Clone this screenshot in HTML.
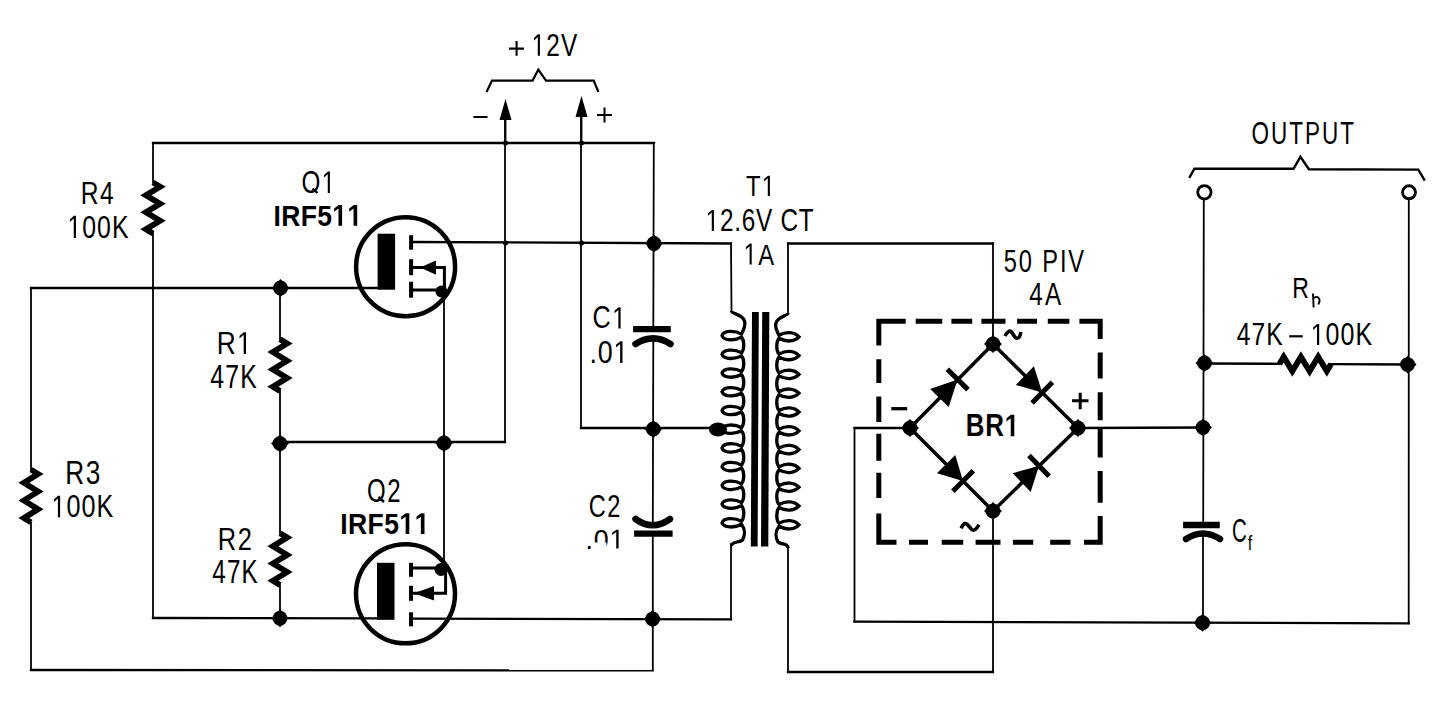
<!DOCTYPE html>
<html><head><meta charset="utf-8"><title>Circuit</title>
<style>
html,body{margin:0;padding:0;background:#fff;width:1444px;height:708px;overflow:hidden}
svg{display:block}
.f{fill:#000;stroke:none}
text{font-family:"Liberation Sans",sans-serif;font-kerning:none}
</style></head><body>
<svg width="1444" height="708" viewBox="0 0 1444 708">
<rect width="1444" height="708" fill="#fff"/>
<g fill="none" stroke="#000" stroke-linecap="butt" stroke-linejoin="miter">
<path d="M153,143 L654,143" stroke-width="2.3" stroke-linecap="square"/>
<path d="M153,143 L153,182.5" stroke-width="1.8" stroke-linecap="square"/>
<path d="M153,182.5 L160.1,186.8 L145.9,195.2 L160.1,203.8 L145.9,212.2 L160.1,220.8 L145.9,229.2 L153,233.5" stroke-width="5.8" stroke-linejoin="miter" stroke-miterlimit="10"/>
<path d="M153,233.5 L153,618" stroke-width="1.8" stroke-linecap="square"/>
<path d="M153,618 L378,618.3" stroke-width="2.3" stroke-linecap="square"/>
<path d="M411,618.6 L731,619.4" stroke-width="2.3" stroke-linecap="square"/>
<path d="M731,619.4 L731,544" stroke-width="1.8" stroke-linecap="square"/>
<path d="M31,670 L652.8,670.4" stroke-width="2.3" stroke-linecap="square"/>
<path d="M31,288 L31,469.6" stroke-width="1.8" stroke-linecap="square"/>
<path d="M31,469.6 L38.1,474.0 L23.9,482.8 L38.1,491.6 L23.9,500.4 L38.1,509.2 L23.9,518.0 L31,522.4" stroke-width="5.8" stroke-linejoin="miter" stroke-miterlimit="10"/>
<path d="M31,522.4 L31,670" stroke-width="1.8" stroke-linecap="square"/>
<path d="M31,288 L378,288" stroke-width="2.3" stroke-linecap="square"/>
<path d="M280,288 L280,339.2" stroke-width="1.8" stroke-linecap="square"/>
<path d="M280,339.2 L287.1,343.5 L272.9,352.1 L287.1,360.8 L272.9,369.4 L287.1,378.1 L272.9,386.7 L280,391" stroke-width="5.8" stroke-linejoin="miter" stroke-miterlimit="10"/>
<path d="M280,391 L280,533.3" stroke-width="1.8" stroke-linecap="square"/>
<path d="M280,533.3 L287.1,537.6 L272.9,546.2 L287.1,554.9 L272.9,563.5 L287.1,572.1 L272.9,580.8 L280,585.1" stroke-width="5.8" stroke-linejoin="miter" stroke-miterlimit="10"/>
<path d="M280,585.1 L280,618" stroke-width="1.8" stroke-linecap="square"/>
<path d="M280,442 L505,442" stroke-width="2.3" stroke-linecap="square"/>
<path d="M505,442 L505,110" stroke-width="1.8" stroke-linecap="square"/>
<path d="M444,268 L444,570" stroke-width="1.8" stroke-linecap="square"/>
<path d="M411,242 L731,243.5" stroke-width="2.3" stroke-linecap="square"/>
<path d="M731,243.5 L731.5,311" stroke-width="1.8" stroke-linecap="square"/>
<path d="M581,428 L718,428" stroke-width="2.3" stroke-linecap="square"/>
<path d="M581,108 L581,428" stroke-width="1.8" stroke-linecap="square"/>
<path d="M653.8,143 L653.3,329" stroke-width="1.8" stroke-linecap="square"/>
<path d="M653.3,338 L652.8,525" stroke-width="1.8" stroke-linecap="square"/>
<path d="M652.8,533 L652.8,670" stroke-width="1.8" stroke-linecap="square"/>
<path d="M788,243.5 L993,243.5" stroke-width="2.3" stroke-linecap="square"/>
<path d="M788,313 L788,243.5 M993,243.5 L993,344" stroke-width="1.8" stroke-linecap="square"/>
<path d="M910,428 L854.5,428 M854.5,621.6 L1408.7,623.3" stroke-width="2.3" stroke-linecap="square"/>
<path d="M854.5,428 L854.5,621.6" stroke-width="1.8" stroke-linecap="square"/>
<path d="M993,672 L788,672" stroke-width="2.3" stroke-linecap="square"/>
<path d="M993,511 L993,672 M788,672 L788,547" stroke-width="1.8" stroke-linecap="square"/>
<path d="M1078,428 L1203.3,427.5" stroke-width="2.3" stroke-linecap="square"/>
<path d="M1203.8,199 L1203.2,525" stroke-width="1.8" stroke-linecap="square"/>
<path d="M1203,533 L1203,623" stroke-width="1.8" stroke-linecap="square"/>
<path d="M1408.8,199 L1408.7,623.3" stroke-width="1.8" stroke-linecap="square"/>
<path d="M1204,363.5 L1279.4,363.8" stroke-width="2.3" stroke-linecap="square"/>
<path d="M1279.4,364 L1283.7,356.9 L1292.3,371.1 L1300.9,356.9 L1309.6,371.1 L1318.2,356.9 L1326.8,371.1 L1331.1,364" stroke-width="5.8" stroke-linejoin="miter" stroke-miterlimit="10"/>
<path d="M1331.1,364.2 L1408.5,364.5" stroke-width="2.3" stroke-linecap="square"/>
<path class="f" d="M273.06,288 A7.44,7.44 0 1,1 287.94,288 A7.44,7.44 0 1,1 273.06,288 Z M280.5,279.04 L289.46,288 L280.5,296.96 L271.54,288 Z" fill-rule="nonzero"/>
<path class="f" d="M272.56,443.5 A7.44,7.44 0 1,1 287.44,443.5 A7.44,7.44 0 1,1 272.56,443.5 Z M280,434.54 L288.96,443.5 L280,452.46 L271.04,443.5 Z" fill-rule="nonzero"/>
<path class="f" d="M436.56,443 A7.44,7.44 0 1,1 451.44,443 A7.44,7.44 0 1,1 436.56,443 Z M444,434.04 L452.96,443 L444,451.96 L435.04,443 Z" fill-rule="nonzero"/>
<path class="f" d="M272.56,618.2 A7.44,7.44 0 1,1 287.44,618.2 A7.44,7.44 0 1,1 272.56,618.2 Z M280,609.24 L288.96,618.2 L280,627.1600000000001 L271.04,618.2 Z" fill-rule="nonzero"/>
<path class="f" d="M646.56,243.5 A7.44,7.44 0 1,1 661.44,243.5 A7.44,7.44 0 1,1 646.56,243.5 Z M654,234.54 L662.96,243.5 L654,252.46 L645.04,243.5 Z" fill-rule="nonzero"/>
<path class="f" d="M645.8599999999999,429 A7.44,7.44 0 1,1 660.74,429 A7.44,7.44 0 1,1 645.8599999999999,429 Z M653.3,420.04 L662.26,429 L653.3,437.96 L644.3399999999999,429 Z" fill-rule="nonzero"/>
<path class="f" d="M645.16,619 A7.44,7.44 0 1,1 660.0400000000001,619 A7.44,7.44 0 1,1 645.16,619 Z M652.6,610.04 L661.5600000000001,619 L652.6,627.96 L643.64,619 Z" fill-rule="nonzero"/>
<path class="f" d="M985.56,344 A7.44,7.44 0 1,1 1000.44,344 A7.44,7.44 0 1,1 985.56,344 Z M993,335.04 L1001.96,344 L993,352.96 L984.04,344 Z" fill-rule="nonzero"/>
<path class="f" d="M902.56,428 A7.44,7.44 0 1,1 917.44,428 A7.44,7.44 0 1,1 902.56,428 Z M910,419.04 L918.96,428 L910,436.96 L901.04,428 Z" fill-rule="nonzero"/>
<path class="f" d="M1070.56,428 A7.44,7.44 0 1,1 1085.44,428 A7.44,7.44 0 1,1 1070.56,428 Z M1078,419.04 L1086.96,428 L1078,436.96 L1069.04,428 Z" fill-rule="nonzero"/>
<path class="f" d="M985.56,511 A7.44,7.44 0 1,1 1000.44,511 A7.44,7.44 0 1,1 985.56,511 Z M993,502.04 L1001.96,511 L993,519.96 L984.04,511 Z" fill-rule="nonzero"/>
<path class="f" d="M1197.06,363 A7.44,7.44 0 1,1 1211.94,363 A7.44,7.44 0 1,1 1197.06,363 Z M1204.5,354.04 L1213.46,363 L1204.5,371.96 L1195.54,363 Z" fill-rule="nonzero"/>
<path class="f" d="M1400.1599999999999,364.6 A7.44,7.44 0 1,1 1415.04,364.6 A7.44,7.44 0 1,1 1400.1599999999999,364.6 Z M1407.6,355.64000000000004 L1416.56,364.6 L1407.6,373.56 L1398.6399999999999,364.6 Z" fill-rule="nonzero"/>
<path class="f" d="M1195.56,427.5 A7.44,7.44 0 1,1 1210.44,427.5 A7.44,7.44 0 1,1 1195.56,427.5 Z M1203,418.54 L1211.96,427.5 L1203,436.46 L1194.04,427.5 Z" fill-rule="nonzero"/>
<path class="f" d="M1195.1599999999999,622.8 A7.44,7.44 0 1,1 1210.04,622.8 A7.44,7.44 0 1,1 1195.1599999999999,622.8 Z M1202.6,613.8399999999999 L1211.56,622.8 L1202.6,631.76 L1193.6399999999999,622.8 Z" fill-rule="nonzero"/>
<circle cx="505.5" cy="143" r="2.5" class="f"/>
<circle cx="581.5" cy="143" r="2.5" class="f"/>
<circle cx="505.5" cy="243" r="2.5" class="f"/>
<circle cx="581.5" cy="243" r="2.5" class="f"/>
<path class="f" d="M505.5,99 L499.5,120 L511.5,120 Z"/>
<path class="f" d="M581.5,96 L575.5,117 L587.5,117 Z"/>
<path d="M505.5,118 L505.5,143" stroke-width="1.8" stroke-linecap="square"/>
<path d="M581.5,115 L581.5,143" stroke-width="1.8" stroke-linecap="square"/>
<path d="M487,91 L492,80.6 L532.6,80.6 L538.3,69.7 L546,80.6 L593.7,80.6 L598,91" stroke-width="2.2" stroke-linecap="square"/>
<path d="M1189.3,177.8 L1194.4,168.7 L1293.5,168.8 L1300.4,156.8 L1308.9,169.2 L1418.3,169.6 L1424.8,180.6" stroke-width="2.4" stroke-linecap="butt"/>
<circle cx="1204.4" cy="192.3" r="6.7" fill="none" stroke-width="2.9"/>
<circle cx="1409" cy="192.3" r="6.5" fill="none" stroke-width="2.9"/>
<circle cx="405.6" cy="266.7" r="49.5" fill="none" stroke-width="4.5"/>
<rect x="377.6" y="233.7" width="17.5" height="56" class="f"/>
<rect x="409.1" y="235.2" width="4" height="14.5" class="f"/>
<rect x="409.1" y="259.2" width="4" height="16.0" class="f"/>
<rect x="409.1" y="281.7" width="4" height="16" class="f"/>
<path d="M411,267.6 L444.4,267.6 L444.4,293" stroke-width="3" stroke-linecap="square"/>
<path class="f" d="M420,267.6 L436,260.5 L436,274.7 Z"/>
<path d="M411,290 L444,290" stroke-width="3" stroke-linecap="square"/>
<circle cx="441.5" cy="291.5" r="6" class="f"/>
<circle cx="405.5" cy="593.8" r="49.5" fill="none" stroke-width="4.5"/>
<rect x="377.0" y="562.8" width="17.5" height="57" class="f"/>
<rect x="409.0" y="562.8" width="4" height="14" class="f"/>
<rect x="409.0" y="585.8" width="4" height="15" class="f"/>
<rect x="409.0" y="612.3" width="4" height="14.0" class="f"/>
<path d="M411,568 L444,568" stroke-width="3" stroke-linecap="square"/>
<circle cx="441" cy="569.5" r="6.5" class="f"/>
<path d="M411,593.3 L445.6,593.3 L445.6,572" stroke-width="3" stroke-linecap="square"/>
<path class="f" d="M414,593.3 L434,586 L434,600.6 Z"/>
<path d="M633.1,329.2 L670.8,329.2" stroke-width="6.3"/>
<path d="M635.5,344 Q653.0,332.79999999999995 670.5,344" fill="none" stroke-width="6.5" stroke-linecap="round"/>
<path d="M634.1,533.7 L672.6,533.7" stroke-width="6.3"/>
<path d="M635.5,519 Q652.75,531.4000000000001 670,519" fill="none" stroke-width="6.5" stroke-linecap="round"/>
<path d="M1183.1,525 L1219.8,525" stroke-width="6.3"/>
<path d="M1186,539 Q1203.0,528.0 1220,539" fill="none" stroke-width="6.5" stroke-linecap="round"/>
<path class="f" d="M752,312 L758.8,312 L757.6,546.5 L750.8,546.5 Z"/>
<path class="f" d="M762.2,312 L769.3,312 L768.3,546.5 L761,546.5 Z"/>
<path d="M731.5,311 C731.5,314 742.5,314 744.5,321 C746.0,326 743.5,329.6 741.5,334.1 C734.675,330.20000000000005 723.5,330.40000000000003 722,335.6 C723.5,340.8 734.675,341.0 741.5,337.1 C744.5,340.6 744.5,349.32000000000005 741.5,352.82000000000005 C734.675,348.9200000000001 723.5,349.12000000000006 722,354.32000000000005 C723.5,359.52000000000004 734.675,359.72 741.5,355.82000000000005 C744.5,359.32000000000005 744.5,368.04 741.5,371.54 C734.675,367.64000000000004 723.5,367.84000000000003 722,373.04 C723.5,378.24 734.675,378.44 741.5,374.54 C744.5,378.04 744.5,386.76 741.5,390.26 C734.675,386.36 723.5,386.56 722,391.76 C723.5,396.96 734.675,397.15999999999997 741.5,393.26 C744.5,396.76 744.5,405.48 741.5,408.98 C734.675,405.08000000000004 723.5,405.28000000000003 722,410.48 C723.5,415.68 734.675,415.88 741.5,411.98 C744.5,415.48 744.5,424.20000000000005 741.5,427.70000000000005 C734.675,423.80000000000007 723.5,424.00000000000006 722,429.20000000000005 C723.5,434.40000000000003 734.675,434.6 741.5,430.70000000000005 C744.5,434.20000000000005 744.5,442.92 741.5,446.42 C734.675,442.52000000000004 723.5,442.72 722,447.92 C723.5,453.12 734.675,453.32 741.5,449.42 C744.5,452.92 744.5,461.64 741.5,465.14 C734.675,461.24 723.5,461.44 722,466.64 C723.5,471.84 734.675,472.03999999999996 741.5,468.14 C744.5,471.64 744.5,480.36 741.5,483.86 C734.675,479.96000000000004 723.5,480.16 722,485.36 C723.5,490.56 734.675,490.76 741.5,486.86 C744.5,490.36 744.5,499.08000000000004 741.5,502.58000000000004 C734.675,498.68000000000006 723.5,498.88000000000005 722,504.08000000000004 C723.5,509.28000000000003 734.675,509.48 741.5,505.58000000000004 C744.5,509.08000000000004 744.5,517.8 741.5,521.3 C734.675,517.4 723.5,517.5999999999999 722,522.8 C723.5,528.0 734.675,528.1999999999999 741.5,524.3 C745.5,529.8 745.5,534 742.5,540 C739.5,543 731.5,541 731.5,546" fill="none" stroke-width="3.3"/>
<path d="M788,313 C788,316 778,316 776,323 C774.5,328 777,330.8 779,335.3 C786.0,331.40000000000003 794,331.6 799,336.8 C794,342.0 786.0,342.2 779,338.3 C776,341.8 776,350.6 779,354.1 C786.0,350.20000000000005 794,350.40000000000003 799,355.6 C794,360.8 786.0,361.0 779,357.1 C776,360.6 776,369.40000000000003 779,372.90000000000003 C786.0,369.00000000000006 794,369.20000000000005 799,374.40000000000003 C794,379.6 786.0,379.8 779,375.90000000000003 C776,379.40000000000003 776,388.20000000000005 779,391.70000000000005 C786.0,387.80000000000007 794,388.00000000000006 799,393.20000000000005 C794,398.40000000000003 786.0,398.6 779,394.70000000000005 C776,398.20000000000005 776,407.0 779,410.5 C786.0,406.6 794,406.8 799,412.0 C794,417.2 786.0,417.4 779,413.5 C776,417.0 776,425.8 779,429.3 C786.0,425.40000000000003 794,425.6 799,430.8 C794,436.0 786.0,436.2 779,432.3 C776,435.8 776,444.6 779,448.1 C786.0,444.20000000000005 794,444.40000000000003 799,449.6 C794,454.8 786.0,455.0 779,451.1 C776,454.6 776,463.4 779,466.9 C786.0,463.0 794,463.2 799,468.4 C794,473.59999999999997 786.0,473.79999999999995 779,469.9 C776,473.4 776,482.20000000000005 779,485.70000000000005 C786.0,481.80000000000007 794,482.00000000000006 799,487.20000000000005 C794,492.40000000000003 786.0,492.6 779,488.70000000000005 C776,492.20000000000005 776,501.0 779,504.5 C786.0,500.6 794,500.8 799,506.0 C794,511.2 786.0,511.4 779,507.5 C776,511.0 776,519.8 779,523.3 C786.0,519.4 794,519.5999999999999 799,524.8 C794,530.0 786.0,530.1999999999999 779,526.3 C775,531.8 775,536 778,542 C781,545 788,543 788,548" fill="none" stroke-width="3.3"/>
<ellipse cx="718" cy="429.5" rx="9" ry="7" class="f"/>
<path d="M993,344 L910,428 L993,511 L1078,428 L993,344" stroke-width="3.5" stroke-linecap="square"/>
<path class="f" d="M957.6,379.5 L948.7,407.1 L930.2,388.9 Z"/>
<path d="M968.0,389.6 L947.3,369.3" stroke-width="5"/>
<path class="f" d="M1042.2,392.6 L1015.8,384.9 L1033.9,366.3 Z"/>
<path d="M1032.1,402.9 L1052.4,382.2" stroke-width="5"/>
<path class="f" d="M963.0,481.0 L936.9,473.3 L955.3,454.9 Z"/>
<path d="M952.8,491.3 L973.3,470.8" stroke-width="5"/>
<path class="f" d="M1039.0,465.8 L1030.7,491.9 L1012.7,473.2 Z"/>
<path d="M1049.1,476.3 L1029.0,455.4" stroke-width="5"/>
<path d="M905.7,321.3 L878.8,321.3 L878.8,345.6 M915.7,321.3 L942.3,321.3 M951.4,321.3 L972.2,321.3 M981.4,321.3 L1005.5,321.3 M1017.1,321.3 L1037,321.3 M1047.8,321.3 L1069.4,321.3 M1079.4,321.3 L1100.2,321.3 L1100.2,339 M878.8,359.2 L878.8,382.9 M878.8,396.4 L878.8,421.9 M878.8,433.7 L878.8,460.8 M878.8,472.7 L878.8,498.1 M878.8,513.4 L878.8,542.2 L896.5,542.2 M1100.2,352.4 L1100.2,378.6 M1100.2,392.2 L1100.2,420.2 M1100.2,428 L1100.2,457.6 M1100.2,471 L1100.2,502.8 M1100.2,516 L1100.2,542.2 L1084,542.2 M909,542.2 L928,542.2 M941.7,542.2 L963.2,542.2 M975.6,542.2 L1000.5,542.2 M1012.9,542.2 L1033.2,542.2 M1050.2,542.2 L1070.5,542.2" stroke-width="5"/>
<path d="M509,48.6 L524,48.6 M516.6,41.1 L516.6,55.7" stroke-width="2.1"/>
<path d="M312.5,188.5 L317.5,193" stroke-width="2.3"/>
<path d="M378.5,497 L384,502" stroke-width="2.5"/>
<path d="M1313,293.5 L1313.6,307.5 M1313.4,298.5 C1315.5,296 1319.5,296.5 1319.6,301 L1318.5,304.5" fill="none" stroke-width="1.9"/>
<path d="M473.4,117 L487.5,117" stroke-width="2"/>
<path d="M597,115 L612,115 M604.5,107.5 L604.5,122.5" stroke-width="2"/>
<path d="M1289.2,336.3 L1302.7,336.3" stroke-width="2.2"/>
<path d="M891.3,408.7 L907.2,408.7" stroke-width="3.3"/>
<path d="M1072,400.8 L1088.5,400.8 M1080.2,392.7 L1080.2,409.2" stroke-width="3"/>
<path d="M1005,336 C1007,332 1009.5,330.5 1011,331.5 C1013,333 1014.5,338.5 1017,338.2 C1019.5,338 1020.5,335 1020.7,332" fill="none" stroke-width="3.6"/>
<path d="M961.2,528.3 C962.5,524.5 964.5,523 966.5,523.8 C968.5,524.6 971,530.5 973.5,530.2 C976,530 977.5,527 979,524.8" fill="none" stroke-width="3.6"/>
</g>
<g fill="#000" font-family="Liberation Sans, sans-serif" style="font-kerning:none">
<path transform="translate(531.66,55.70) scale(0.01188,-0.01517)" d="M515,0 L515,1237 L197,1010 L197,1180 L530,1409 L696,1409 L696,0 Z"/>
<text transform="translate(546.27,55.70) scale(0.783,1)" font-size="31.08" font-weight="normal">2</text>
<text transform="translate(560.88,55.70) scale(0.783,1)" font-size="31.08" font-weight="normal">V</text>
<text transform="translate(80.68,204.10) scale(0.802,1)" font-size="30.67" font-weight="normal">R</text>
<text transform="translate(99.95,204.10) scale(0.802,1)" font-size="30.67" font-weight="normal">4</text>
<path transform="translate(67.51,237.89) scale(0.01214,-0.01566)" d="M515,0 L515,1237 L197,1010 L197,1180 L530,1409 L696,1409 L696,0 Z"/>
<text transform="translate(82.31,237.89) scale(0.775,1)" font-size="32.06" font-weight="normal">0</text>
<text transform="translate(97.10,237.89) scale(0.775,1)" font-size="32.06" font-weight="normal">0</text>
<text transform="translate(111.90,237.89) scale(0.775,1)" font-size="32.06" font-weight="normal">K</text>
<text transform="translate(301.45,193.00) scale(0.776,1)" font-size="31.21" font-weight="normal">O</text>
<path transform="translate(321.67,193.00) scale(0.01183,-0.01524)" d="M515,0 L515,1237 L197,1010 L197,1180 L530,1409 L696,1409 L696,0 Z"/>
<text transform="translate(273.43,225.81) scale(0.880,1)" font-size="30.10" font-weight="bold">I</text>
<text transform="translate(281.15,225.81) scale(0.880,1)" font-size="30.10" font-weight="bold">R</text>
<text transform="translate(300.65,225.81) scale(0.880,1)" font-size="30.10" font-weight="bold">F</text>
<text transform="translate(317.19,225.81) scale(0.880,1)" font-size="30.10" font-weight="bold">5</text>
<path transform="translate(332.29,225.81) scale(0.01293,-0.01470)" d="M478,0 L478,1170 L140,959 L140,1180 L493,1409 L759,1409 L759,0 Z"/>
<path transform="translate(347.38,225.81) scale(0.01293,-0.01470)" d="M478,0 L478,1170 L140,959 L140,1180 L493,1409 L759,1409 L759,0 Z"/>
<text transform="translate(216.64,354.00) scale(0.832,1)" font-size="31.69" font-weight="normal">R</text>
<path transform="translate(237.04,354.00) scale(0.01287,-0.01547)" d="M515,0 L515,1237 L197,1010 L197,1180 L530,1409 L696,1409 L696,0 Z"/>
<text transform="translate(210.33,388.20) scale(0.768,1)" font-size="32.27" font-weight="normal">4</text>
<text transform="translate(225.24,388.20) scale(0.768,1)" font-size="32.27" font-weight="normal">7</text>
<text transform="translate(240.16,388.20) scale(0.768,1)" font-size="32.27" font-weight="normal">K</text>
<text transform="translate(65.15,484.08) scale(0.800,1)" font-size="32.77" font-weight="normal">R</text>
<text transform="translate(85.67,484.08) scale(0.800,1)" font-size="32.77" font-weight="normal">3</text>
<path transform="translate(51.58,517.20) scale(0.01228,-0.01517)" d="M515,0 L515,1237 L197,1010 L197,1180 L530,1409 L696,1409 L696,0 Z"/>
<text transform="translate(66.55,517.20) scale(0.810,1)" font-size="31.07" font-weight="normal">0</text>
<text transform="translate(81.53,517.20) scale(0.810,1)" font-size="31.07" font-weight="normal">0</text>
<text transform="translate(96.50,517.20) scale(0.810,1)" font-size="31.07" font-weight="normal">K</text>
<text transform="translate(217.71,549.70) scale(0.819,1)" font-size="31.08" font-weight="normal">R</text>
<text transform="translate(237.63,549.70) scale(0.819,1)" font-size="31.08" font-weight="normal">2</text>
<text transform="translate(212.34,583.30) scale(0.747,1)" font-size="32.41" font-weight="normal">4</text>
<text transform="translate(226.93,583.30) scale(0.747,1)" font-size="32.41" font-weight="normal">7</text>
<text transform="translate(241.51,583.30) scale(0.747,1)" font-size="32.41" font-weight="normal">K</text>
<text transform="translate(366.96,501.68) scale(0.738,1)" font-size="32.49" font-weight="normal">O</text>
<text transform="translate(387.17,501.68) scale(0.738,1)" font-size="32.49" font-weight="normal">2</text>
<text transform="translate(340.13,533.91) scale(0.880,1)" font-size="30.10" font-weight="bold">I</text>
<text transform="translate(347.97,533.91) scale(0.880,1)" font-size="30.10" font-weight="bold">R</text>
<text transform="translate(367.59,533.91) scale(0.880,1)" font-size="30.10" font-weight="bold">F</text>
<text transform="translate(384.25,533.91) scale(0.880,1)" font-size="30.10" font-weight="bold">5</text>
<path transform="translate(399.47,533.91) scale(0.01293,-0.01470)" d="M478,0 L478,1170 L140,959 L140,1180 L493,1409 L759,1409 L759,0 Z"/>
<path transform="translate(414.68,533.91) scale(0.01293,-0.01470)" d="M478,0 L478,1170 L140,959 L140,1180 L493,1409 L759,1409 L759,0 Z"/>
<text transform="translate(746.06,196.00) scale(0.812,1)" font-size="29.36" font-weight="normal">T</text>
<path transform="translate(761.80,196.00) scale(0.01164,-0.01434)" d="M515,0 L515,1237 L197,1010 L197,1180 L530,1409 L696,1409 L696,0 Z"/>
<path transform="translate(705.66,230.90) scale(0.01187,-0.01490)" d="M515,0 L515,1237 L197,1010 L197,1180 L530,1409 L696,1409 L696,0 Z"/>
<text transform="translate(719.93,230.90) scale(0.797,1)" font-size="30.51" font-weight="normal">2</text>
<text transform="translate(734.19,230.90) scale(0.797,1)" font-size="30.51" font-weight="normal">.</text>
<text transform="translate(741.69,230.90) scale(0.797,1)" font-size="30.51" font-weight="normal">6</text>
<text transform="translate(755.96,230.90) scale(0.797,1)" font-size="30.51" font-weight="normal">V</text>
<text transform="translate(780.42,230.90) scale(0.797,1)" font-size="30.51" font-weight="normal">C</text>
<text transform="translate(798.71,230.90) scale(0.797,1)" font-size="30.51" font-weight="normal">T</text>
<path transform="translate(743.61,264.50) scale(0.01163,-0.01483)" d="M515,0 L515,1237 L197,1010 L197,1180 L530,1409 L696,1409 L696,0 Z"/>
<text transform="translate(758.26,264.50) scale(0.784,1)" font-size="30.38" font-weight="normal">A</text>
<text transform="translate(592.52,328.40) scale(0.821,1)" font-size="30.65" font-weight="normal">C</text>
<path transform="translate(612.04,328.40) scale(0.01229,-0.01497)" d="M515,0 L515,1237 L197,1010 L197,1180 L530,1409 L696,1409 L696,0 Z"/>
<text transform="translate(589.45,362.99) scale(0.853,1)" font-size="31.50" font-weight="normal">.</text>
<text transform="translate(597.67,362.99) scale(0.853,1)" font-size="31.50" font-weight="normal">0</text>
<path transform="translate(613.37,362.99) scale(0.01311,-0.01538)" d="M515,0 L515,1237 L197,1010 L197,1180 L530,1409 L696,1409 L696,0 Z"/>
<text transform="translate(588.70,517.29) scale(0.751,1)" font-size="31.36" font-weight="normal">C</text>
<text transform="translate(607.18,517.29) scale(0.751,1)" font-size="31.36" font-weight="normal">2</text>
<text transform="translate(585.55,548.53) scale(0.985,1)" font-size="27.26" font-weight="normal">.</text>
<text transform="translate(593.77,548.53) scale(0.985,1)" font-size="27.26" font-weight="normal">0</text>
<path transform="translate(609.47,548.53) scale(0.01311,-0.01331)" d="M515,0 L515,1237 L197,1010 L197,1180 L530,1409 L696,1409 L696,0 Z"/>
<text transform="translate(1003.65,271.99) scale(0.734,1)" font-size="32.20" font-weight="normal">5</text>
<text transform="translate(1018.70,271.99) scale(0.734,1)" font-size="32.20" font-weight="normal">0</text>
<text transform="translate(1042.21,271.99) scale(0.734,1)" font-size="32.20" font-weight="normal">P</text>
<text transform="translate(1059.88,271.99) scale(0.734,1)" font-size="32.20" font-weight="normal">I</text>
<text transform="translate(1068.35,271.99) scale(0.734,1)" font-size="32.20" font-weight="normal">V</text>
<text transform="translate(1029.34,304.60) scale(0.764,1)" font-size="31.69" font-weight="normal">4</text>
<text transform="translate(1045.00,304.60) scale(0.764,1)" font-size="31.69" font-weight="normal">A</text>
<text transform="translate(965.76,436.20) scale(0.830,1)" font-size="31.25" font-weight="bold">B</text>
<text transform="translate(985.23,436.20) scale(0.830,1)" font-size="31.25" font-weight="bold">R</text>
<path transform="translate(1004.69,436.20) scale(0.01267,-0.01526)" d="M478,0 L478,1170 L140,959 L140,1180 L493,1409 L759,1409 L759,0 Z"/>
<text transform="translate(1251.43,143.90) scale(0.734,1)" font-size="30.65" font-weight="normal">O</text>
<text transform="translate(1270.95,143.90) scale(0.734,1)" font-size="30.65" font-weight="normal">U</text>
<text transform="translate(1289.22,143.90) scale(0.734,1)" font-size="30.65" font-weight="normal">T</text>
<text transform="translate(1304.98,143.90) scale(0.734,1)" font-size="30.65" font-weight="normal">P</text>
<text transform="translate(1322.01,143.90) scale(0.734,1)" font-size="30.65" font-weight="normal">U</text>
<text transform="translate(1340.27,143.90) scale(0.734,1)" font-size="30.65" font-weight="normal">T</text>
<text transform="translate(1292.31,297.90) scale(0.763,1)" font-size="30.23" font-weight="normal">R</text>
<text transform="translate(1236.74,345.00) scale(0.795,1)" font-size="30.96" font-weight="normal">4</text>
<text transform="translate(1251.55,345.00) scale(0.795,1)" font-size="30.96" font-weight="normal">7</text>
<text transform="translate(1266.36,345.00) scale(0.795,1)" font-size="30.96" font-weight="normal">K</text>
<path transform="translate(1310.69,345.00) scale(0.01222,-0.01490)" d="M515,0 L515,1237 L197,1010 L197,1180 L530,1409 L696,1409 L696,0 Z"/>
<text transform="translate(1325.59,345.00) scale(0.820,1)" font-size="30.51" font-weight="normal">0</text>
<text transform="translate(1340.49,345.00) scale(0.820,1)" font-size="30.51" font-weight="normal">0</text>
<text transform="translate(1355.39,345.00) scale(0.820,1)" font-size="30.51" font-weight="normal">K</text>
<text transform="translate(1231.96,542.08) scale(0.626,1)" font-size="32.77" font-weight="normal">C</text>
<text transform="translate(1247.77,550.00) scale(0.821,1)" font-size="19.76" font-weight="normal">f</text>
<rect x="593.5" y="542.5" width="13" height="7" fill="#fff"/>
</g>
</svg>
</body></html>
